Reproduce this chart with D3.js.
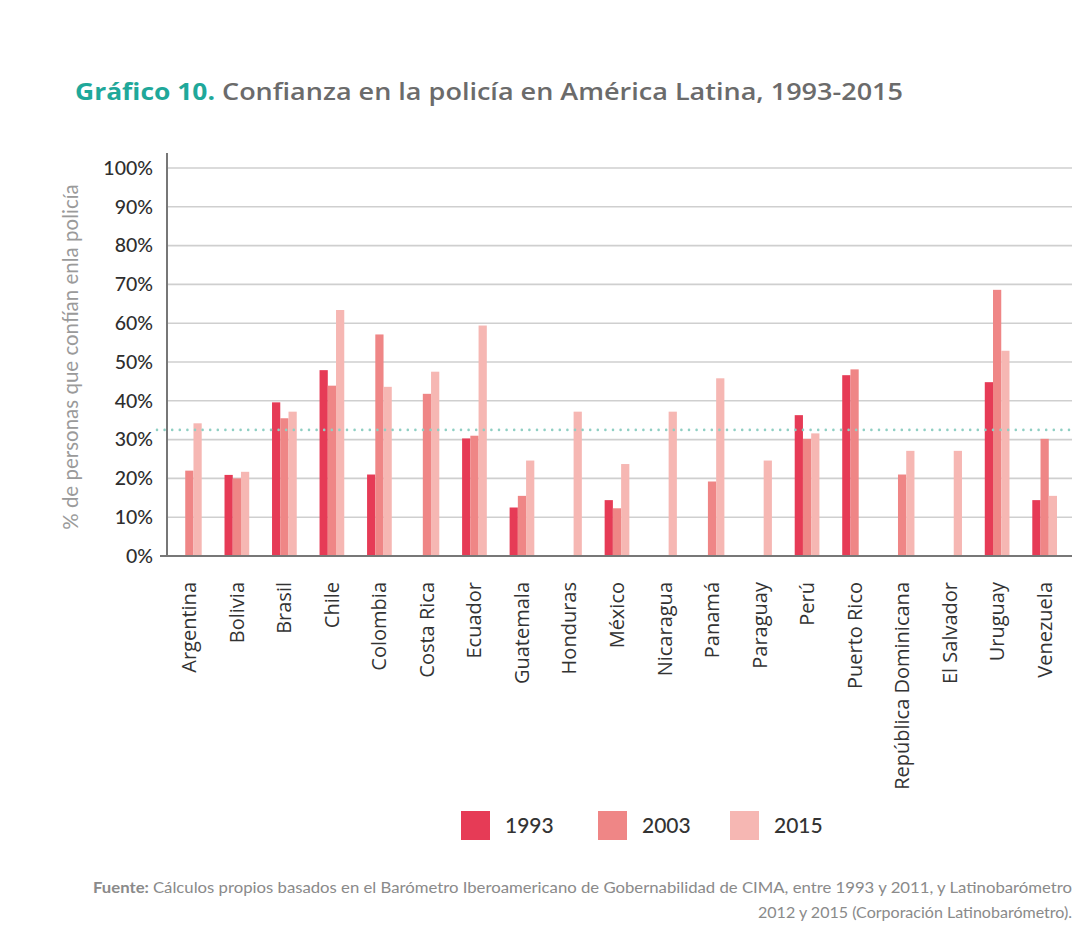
<!DOCTYPE html>
<html>
<head>
<meta charset="utf-8">
<script src="https://cdn.jsdelivr.net/npm/d3@7"></script>
<style>
  body { margin: 0; background: #fff; }
  svg { display: block; }
</style>
</head>
<body>
<svg width="1080" height="949"></svg>
<script>
// data
const countries = ['Argentina', 'Bolivia', 'Brasil', 'Chile', 'Colombia', 'Costa Rica', 'Ecuador',
  'Guatemala', 'Honduras', 'México', 'Nicaragua', 'Panamá', 'Paraguay', 'Perú', 'Puerto Rico',
  'República Dominicana', 'El Salvador', 'Uruguay', 'Venezuela'];
const years = ['1993', '2003', '2015'];
const v1993 = [null, 20.9, 39.6, 47.9, 21.0, null, 30.3, 12.5, null, 14.4, null, null, null, 36.3, 46.6, null, null, 44.8, 14.4];
const v2003 = [22.0, 20.0, 35.5, 43.9, 57.1, 41.8, 31.0, 15.5, null, 12.3, null, 19.2, null, 30.2, 48.1, 21.0, null, 68.6, 30.2];
const v2015 = [34.2, 21.7, 37.2, 63.4, 43.6, 47.5, 59.4, 24.6, 37.2, 23.7, 37.2, 45.8, 24.6, 31.6, null, 27.1, 27.1, 52.9, 15.5];
const average = 32.5;
const yTicks = [0, 10, 20, 30, 40, 50, 60, 70, 80, 90, 100];
const colors = ['#e63b56', '#ef8686', '#f6b7b3'];

const svg = d3.select('svg');
const series = [v1993, v2003, v2015];

// scales
const x = d3.scaleBand().domain(countries).range([177, 1057]).paddingInner(0.48).paddingOuter(0);
const xi = d3.scaleBand().domain(years).range([0, x.bandwidth()]);
const y = d3.scaleLinear().domain([0, 100]).range([556, 168]);

// title (font is wider in the original, so stretch glyphs)
svg.append('text')
  .attr('x', 75).attr('y', 100)
  .attr('textLength', 140).attr('lengthAdjust', 'spacingAndGlyphs')
  .style('font-family', '"Open Sans", sans-serif')
  .style('font-size', '23px').style('font-weight', 'bold')
  .style('fill', '#1fa89a')
  .text('Gráfico 10.');
svg.append('text')
  .attr('x', 222).attr('y', 100)
  .attr('textLength', 681).attr('lengthAdjust', 'spacingAndGlyphs')
  .style('font-family', '"Open Sans", sans-serif')
  .style('font-size', '23px').style('font-weight', '600')
  .style('fill', '#6b6b6b')
  .text('Confianza en la policía en América Latina, 1993-2015');

// grid
svg.append('g')
  .selectAll('line')
  .data(yTicks.filter(d => d > 0))
  .join('line')
  .attr('x1', 167).attr('x2', 1072)
  .attr('y1', d => y(d)).attr('y2', d => y(d))
  .attr('stroke', '#cfcfcf').attr('stroke-width', 1.6);

// y axis
const yAxis = svg.append('g')
  .attr('transform', 'translate(167,0)')
  .call(d3.axisLeft(y).tickValues(yTicks).tickFormat(d => d + '%').tickSize(0).tickPadding(14));
yAxis.select('.domain').remove();
yAxis.selectAll('text')
  .style('font-family', 'Lato, sans-serif')
  .style('font-size', '19.5px')
  .style('font-weight', '500')
  .style('fill', '#2e2e2e');

svg.append('line')
  .attr('x1', 167).attr('x2', 167).attr('y1', 153).attr('y2', 557)
  .attr('stroke', '#777').attr('stroke-width', 2);

svg.append('text')
  .attr('transform', 'translate(78,357) rotate(-90)')
  .attr('text-anchor', 'middle')
  .style('font-family', 'Lato, sans-serif')
  .style('font-size', '20.5px')
  .style('fill', '#9a9a9a')
  .text('% de personas que confían enla policía');

// bars
const groups = svg.append('g')
  .selectAll('g')
  .data(countries)
  .join('g')
  .attr('transform', d => 'translate(' + x(d) + ',0)');

groups.selectAll('rect')
  .data((c, i) => years.map((yr, j) => ({ yr: yr, v: series[j][i] })).filter(d => d.v != null))
  .join('rect')
  .attr('x', d => xi(d.yr))
  .attr('width', xi.bandwidth())
  .attr('y', d => y(d.v))
  .attr('height', d => y(0) - y(d.v))
  .attr('fill', d => colors[years.indexOf(d.yr)]);

// x baseline
svg.append('line')
  .attr('x1', 160).attr('x2', 1072).attr('y1', y(0)).attr('y2', y(0))
  .attr('stroke', '#777').attr('stroke-width', 2);

// average dotted line
svg.append('line')
  .attr('x1', 157).attr('x2', 1076)
  .attr('y1', y(average)).attr('y2', y(average))
  .attr('stroke', '#8fcfc3').attr('stroke-width', 2.6)
  .attr('stroke-dasharray', '0,7.6').attr('stroke-linecap', 'round');

// x labels
const xAxis = svg.append('g')
  .attr('transform', 'translate(0,' + y(0) + ')')
  .call(d3.axisBottom(x).tickSize(0).tickPadding(0));
xAxis.select('.domain').remove();
xAxis.selectAll('text')
  .attr('transform', 'rotate(-90)')
  .attr('x', -26).attr('y', 0).attr('dy', '0.35em')
  .attr('text-anchor', 'end')
  .style('font-family', '"Open Sans", sans-serif')
  .style('font-size', '20px')
  .style('fill', '#333');

// legend
const legendX = [461, 598, 730];
const legend = svg.append('g')
  .selectAll('g')
  .data(years)
  .join('g')
  .attr('transform', (d, i) => 'translate(' + legendX[i] + ',811)');
legend.append('rect')
  .attr('width', 29).attr('height', 29)
  .attr('fill', (d, i) => colors[i]);
legend.append('text')
  .attr('x', 44).attr('y', 15).attr('dy', '0.35em')
  .style('font-family', 'Lato, sans-serif')
  .style('font-size', '21px')
  .style('font-weight', '500')
  .style('fill', '#333')
  .text(d => d);

// source
const src = svg.append('text')
  .attr('x', 93).attr('y', 893)
  .attr('textLength', 979).attr('lengthAdjust', 'spacingAndGlyphs')
  .style('font-family', 'Lato, sans-serif')
  .style('font-size', '15px')
  .style('fill', '#8a8a8a');
src.append('tspan').text('Fuente: ').style('font-weight', 'bold');
src.append('tspan').text('Cálculos propios basados en el Barómetro Iberoamericano de Gobernabilidad de CIMA, entre 1993 y 2011, y Latinobarómetro');
svg.append('text')
  .attr('x', 758).attr('y', 918)
  .attr('textLength', 314).attr('lengthAdjust', 'spacingAndGlyphs')
  .style('font-family', 'Lato, sans-serif')
  .style('font-size', '15px')
  .style('fill', '#8a8a8a')
  .text('2012 y 2015 (Corporación Latinobarómetro).');
</script>
</body>
</html>
